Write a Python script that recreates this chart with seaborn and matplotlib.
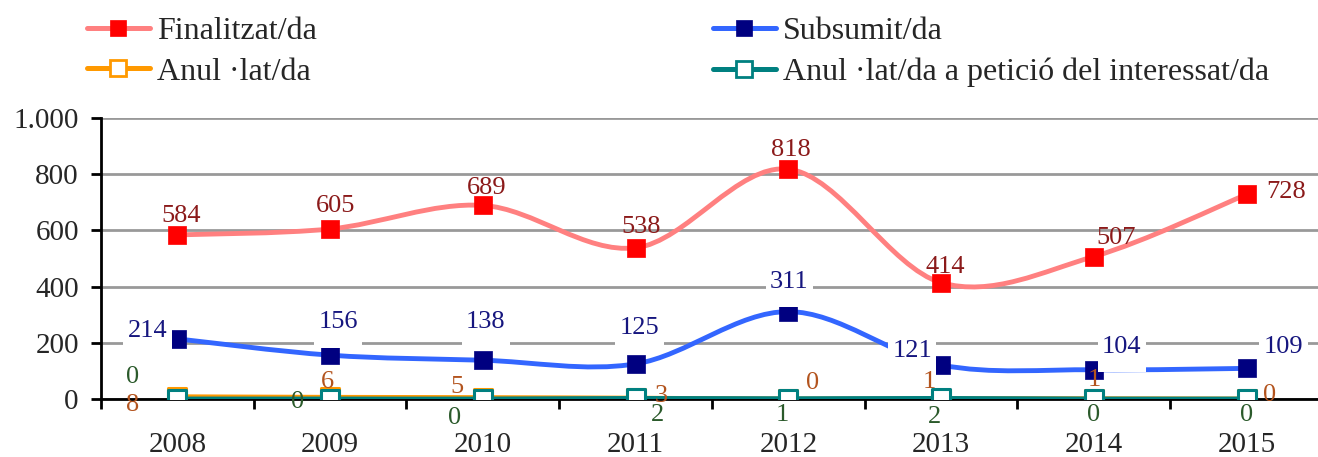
import numpy as np
import pandas as pd
import matplotlib
matplotlib.use("Agg")
import matplotlib.pyplot as plt
import seaborn as sns
from matplotlib.path import Path
from matplotlib.patches import PathPatch
from matplotlib.lines import Line2D

# ---------------- data ----------------
years = ["2008", "2009", "2010", "2011", "2012", "2013", "2014", "2015"]
finalitzat = [584, 605, 689, 538, 818, 414, 507, 728]
subsumit = [214, 156, 138, 125, 311, 121, 104, 109]
anullat = [8, 6, 5, 3, 0, 1, 1, 0]
peticio = [0, 0, 0, 2, 1, 2, 0, 0]
series_names = ["Finalitzat/da", "Subsumit/da", "Anul ·lat/da",
                "Anul ·lat/da a petició del interessat/da"]
y_ticks = [0, 200, 400, 600, 800, 1000]
y_tick_labels = ["0", "200", "400", "600", "800", "1.000"]

# ---------------- style ----------------
sns.set_style("white")
plt.rcParams["font.family"] = ["Liberation Serif", "DejaVu Serif"]

line_cols = ["#FF8080", "#3366FF", "#FF9900", "#008080"]
mark_face = ["#FF0000", "#000080", "white", "white"]
mark_edge = ["#FF0000", "#000080", "#FF9900", "#008080"]
label_cols = ["#8B1A1A", "#16167F", "#B3541E", "#2B5A2B"]

# label offsets in pixels (dx, dy screen; dy positive = up)
off_fin = [(4, 19), (5, 23), (4, 17), (6, 21), (3, 19), (4, 16), (22, 19), (40, 2)]
off_sub = [(-30, 8), (8, 33), (3, 38), (4, 36), (1, 30), (-29, 14), (28, 23), (37, 21)]
off_anu = [(-45, -8), (-3, 15), (-26, 11), (26, 2), (24, 16), (-12, 17), (0, 19), (23, 4)]
off_pet = [(-45, 22), (-33, -3), (-28, -19), (22, -17), (-6, -16), (-7, -19), (0, -16), (0, -16)]

W, H = 1318, 457
fig = plt.figure(figsize=(W / 100, H / 100), dpi=100)
ax = fig.add_axes([101 / W, 1 - 399 / H, 1222 / W, 281 / H])

x = np.arange(len(years))
all_series = [finalitzat, subsumit, anullat, peticio]
df = pd.DataFrame({"x": np.tile(x, 4),
                   "value": np.concatenate(all_series),
                   "serie": np.repeat(series_names, len(years))})


def smooth_path(xs, ys):
    P = np.column_stack([xs, ys]).astype(float)
    n = len(P)
    verts = [P[0]]
    codes = [Path.MOVETO]
    for i in range(n - 1):
        p0 = P[i - 1] if i > 0 else P[i]
        p1, p2 = P[i], P[i + 1]
        p3 = P[i + 2] if i + 2 < n else P[i + 1]
        c1 = p1 + (p2 - p0) / 6.0
        c2 = p2 - (p3 - p1) / 6.0
        verts += [c1, c2, p2]
        codes += [Path.CURVE4] * 3
    return Path(verts, codes)


def label_box(x0, y0, width, height, mutation_size):
    # Excel-like label box: narrow horizontal margin, taller vertical margin
    px = 0.17 * mutation_size
    py = 0.55 * mutation_size
    xa, xb = x0 - px, x0 + width + px
    ya, yb = y0 - py, y0 + height + py
    return Path([(xa, ya), (xb, ya), (xb, yb), (xa, yb), (xa, ya)],
                [Path.MOVETO, Path.LINETO, Path.LINETO, Path.LINETO,
                 Path.CLOSEPOLY])


lw = 3.5
for k, name in enumerate(series_names):
    sub = df[df["serie"] == name]
    patch = PathPatch(smooth_path(sub["x"].values, sub["value"].values),
                      facecolor="none", edgecolor=line_cols[k], lw=lw,
                      capstyle="round", joinstyle="round", zorder=3 + k * 0.1)
    ax.add_patch(patch)
    sns.scatterplot(data=sub, x="x", y="value", marker="s", s=150,
                    color=mark_face[k], edgecolor=mark_edge[k],
                    linewidth=2.2 if k >= 2 else 0.5, ax=ax,
                    zorder=4 + k * 0.1, legend=False)

# ---------------- data labels ----------------
fs_lab = 19
offs = [off_fin, off_sub, off_anu, off_pet]
for k, vals in enumerate(all_series):
    for i, v in enumerate(vals):
        dx, dy = offs[k][i]
        kw = {}
        if k == 1:
            kw["bbox"] = dict(boxstyle=label_box, fc="white", ec="none")
        ax.annotate(str(v), xy=(x[i], v), xytext=(dx * 0.72, dy * 0.72),
                    textcoords="offset points", ha="center", va="center",
                    fontsize=fs_lab, color=label_cols[k], zorder=6, **kw)

# ---------------- axes ----------------
ax.set_xlim(-0.5, len(years) - 0.5)
ax.set_ylim(0, 1000)
ax.set_yticks(y_ticks)
ax.set_yticklabels(y_tick_labels)
ax.set_xticks(np.arange(-0.5, len(years), 1.0))
ax.set_xticklabels([])
ax.set_xticks(x, minor=True)
ax.set_xticklabels(years, minor=True)
ax.tick_params(axis="x", which="major", direction="out", length=7, width=2,
               color="black", bottom=True)
ax.tick_params(axis="x", which="minor", length=0, pad=24, labelsize=21)
ax.tick_params(axis="y", direction="out", length=7, width=2, color="black",
               left=True, pad=9, labelsize=21)
ax.set_xlabel("")
ax.set_ylabel("")
for sp in ["top", "right"]:
    ax.spines[sp].set_visible(False)
for sp in ["left", "bottom"]:
    ax.spines[sp].set_color("black")
    ax.spines[sp].set_linewidth(2)
    ax.spines[sp].set_zorder(2.5)
ax.yaxis.grid(True, color="#999999", linewidth=2, zorder=1)
ax.set_axisbelow(True)

# ---------------- legend ----------------
handles = [Line2D([0], [0], color=line_cols[k], lw=3.6, marker="s",
                  markersize=12, markerfacecolor=mark_face[k],
                  markeredgecolor=mark_edge[k],
                  markeredgewidth=2 if k >= 2 else 0.5,
                  solid_capstyle="round")
           for k in range(4)]
leg_kw = dict(loc="upper left", frameon=False, fontsize=23, ncol=1,
              handlelength=1.97, handletextpad=0.22, labelspacing=0.34,
              borderpad=0, borderaxespad=0)
leg1 = fig.legend([handles[0], handles[2]], [series_names[0], series_names[2]],
                  bbox_to_anchor=(87 / W, 1 - 17 / H), **leg_kw)
leg2 = fig.legend([handles[1], handles[3]], [series_names[1], series_names[3]],
                  bbox_to_anchor=(713 / W, 1 - 17 / H), **leg_kw)

fig.savefig("out.png", dpi=100)
